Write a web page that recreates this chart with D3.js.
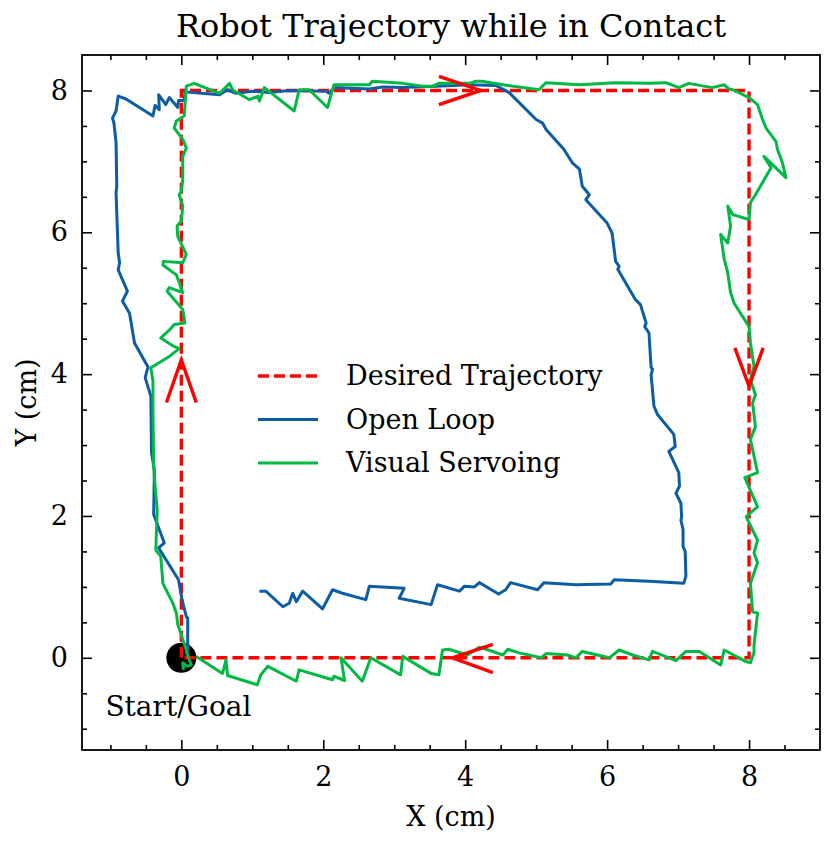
<!DOCTYPE html>
<html>
<head>
<meta charset="utf-8">
<script src="https://cdn.jsdelivr.net/npm/d3@7"></script>
<style>
  body { margin: 0; background: #fff; }
  text { font-family: "DejaVu Serif", serif; fill: #000; }
</style>
</head>
<body>
<div id="chart"></div>
<script>
// desired square path, start/goal at the origin
var desired = [[0, 0], [0, 8], [8, 8], [8, 0], [0, 0]];

// open loop run
var openLoop = [
  [0.10, 0.04], [0.07, 0.07], [0.09, 0.12], [0.09, 0.56], [0.07, 0.58], [0.01, 0.82],
  [-0.04, 1.10], [-0.32, 1.55], [-0.24, 1.62], [-0.39, 2.02], [-0.38, 2.65],
  [-0.42, 2.89], [-0.43, 3.69], [-0.51, 3.95], [-0.47, 4.10], [-0.66, 4.44],
  [-0.73, 4.86], [-0.83, 5.03], [-0.76, 5.17], [-0.89, 5.47], [-0.87, 5.57],
  [-0.89, 5.71], [-0.92, 6.56], [-0.91, 6.65], [-0.92, 7.26], [-0.95, 7.54],
  [-0.97, 7.61], [-0.92, 7.71], [-0.89, 7.92], [-0.78, 7.88], [-0.40, 7.64],
  [-0.37, 7.79], [-0.31, 7.73], [-0.32, 7.94], [-0.22, 7.80], [-0.17, 7.90],
  [-0.05, 7.76], [-0.04, 7.86], [0.04, 7.86], [0.05, 7.98], [0.54, 7.94],
  [0.65, 8.01], [0.77, 7.96], [1.00, 7.99], [1.24, 7.97], [1.52, 8.00],
  [2.04, 7.99], [2.08, 7.96], [2.15, 8.04], [2.65, 8.02], [2.84, 8.05],
  [3.12, 8.04], [3.59, 8.06], [4.06, 8.08], [4.43, 8.07], [4.53, 8.02],
  [4.62, 7.97], [5.00, 7.59], [5.09, 7.54], [5.14, 7.45], [5.39, 7.17],
  [5.51, 6.98], [5.61, 6.89], [5.65, 6.65], [5.75, 6.53], [5.70, 6.46],
  [6.00, 6.13], [6.07, 5.99], [6.12, 5.59], [6.17, 5.52], [6.15, 5.48],
  [6.40, 5.05], [6.47, 4.98], [6.55, 4.72], [6.53, 4.67], [6.59, 4.58],
  [6.62, 4.09], [6.64, 4.07], [6.62, 3.99], [6.66, 3.55], [6.71, 3.43],
  [6.94, 3.15], [6.96, 2.98], [6.87, 2.91], [7.01, 2.61], [7.02, 2.42],
  [6.97, 2.32], [7.04, 2.18], [7.05, 1.99], [7.04, 1.94], [7.07, 1.81],
  [7.07, 1.57], [7.10, 1.50], [7.11, 1.15], [7.08, 1.05], [6.59, 1.08],
  [6.10, 1.10], [6.05, 1.04], [5.56, 1.03], [5.11, 1.06], [5.02, 0.96],
  [4.64, 1.06], [4.57, 0.96], [4.47, 0.90], [4.20, 1.06], [4.13, 1.00],
  [3.99, 1.01], [3.92, 0.94], [3.61, 1.03], [3.52, 0.75], [3.07, 0.84],
  [3.14, 0.98], [2.65, 1.01], [2.60, 0.82], [2.27, 0.91], [2.13, 0.96],
  [1.99, 0.69], [1.71, 0.94], [1.62, 0.79], [1.57, 0.91], [1.52, 0.77],
  [1.43, 0.72], [1.19, 0.94], [1.10, 0.94]
];

// visual servoing run
var visualServo = [
  [0.03, -0.17], [0.02, -0.07], [0.08, -0.12], [0.14, -0.10], [0.10, 0.00],
  [0.07, 0.11], [0.00, 0.32], [-0.05, 0.47], [-0.07, 0.63], [-0.12, 0.77],
  [-0.26, 1.05], [-0.29, 1.43], [-0.36, 1.52], [-0.34, 2.09], [-0.37, 2.42],
  [-0.39, 2.70], [-0.40, 3.45], [-0.40, 3.90], [-0.43, 4.09], [-0.17, 4.25],
  [-0.03, 4.36], [-0.12, 4.40], [-0.29, 4.51], [-0.17, 4.62], [-0.10, 4.70],
  [0.05, 4.72], [0.02, 4.91], [-0.20, 5.17], [-0.17, 5.22], [0.02, 5.15],
  [-0.07, 5.40], [-0.26, 5.54], [-0.25, 5.59], [0.02, 5.57], [0.07, 5.69],
  [-0.05, 5.94], [-0.06, 6.09], [0.00, 6.16], [0.02, 6.37], [-0.03, 6.53],
  [0.00, 6.58], [0.02, 6.74], [0.02, 7.07], [0.07, 7.19], [0.02, 7.31],
  [-0.10, 7.47], [-0.07, 7.57], [0.04, 7.64], [0.07, 8.06], [0.18, 8.10],
  [0.54, 7.96], [0.68, 8.10], [0.72, 8.01], [0.96, 7.87], [1.08, 7.92],
  [1.10, 7.85], [1.17, 8.04], [1.59, 7.71], [1.66, 8.01], [1.80, 8.01],
  [2.06, 7.76], [2.15, 8.08], [2.41, 8.08], [2.65, 8.08], [2.69, 8.13],
  [3.12, 8.10], [3.40, 8.06], [3.54, 8.06], [3.63, 8.10], [4.06, 8.10],
  [4.15, 8.13], [4.24, 8.13], [4.53, 8.08], [5.04, 8.01], [5.14, 8.11],
  [5.61, 8.08], [6.12, 8.11], [6.59, 8.10], [6.83, 8.11], [7.01, 8.04],
  [7.15, 8.10], [7.48, 8.04], [7.65, 8.08], [7.72, 8.02], [7.77, 8.01],
  [8.00, 7.90], [8.12, 7.80], [8.19, 7.59], [8.24, 7.47], [8.38, 7.28],
  [8.40, 7.17], [8.47, 6.98], [8.52, 6.77], [8.21, 7.07], [8.31, 6.91],
  [8.16, 6.65], [8.09, 6.53], [8.02, 6.42], [8.00, 6.18], [7.77, 6.25],
  [7.70, 6.37], [7.74, 6.09], [7.70, 5.85], [7.60, 5.97], [7.65, 5.62],
  [7.70, 5.43], [7.74, 5.15], [7.79, 5.00], [8.00, 4.67], [8.02, 4.44],
  [8.07, 4.11], [8.02, 3.92], [8.09, 3.71], [8.05, 3.59], [8.09, 3.26],
  [8.02, 3.08], [8.12, 2.61], [7.94, 2.54], [8.12, 2.13], [7.96, 1.99],
  [8.07, 1.76], [8.12, 1.66], [8.07, 1.48], [8.12, 1.34], [8.02, 1.05],
  [8.05, 0.65], [8.12, 0.63], [8.07, 0.18], [8.07, 0.07], [8.02, -0.07],
  [7.95, -0.05], [7.65, 0.11], [7.60, -0.10], [7.30, 0.09], [7.11, 0.09],
  [6.97, -0.04], [6.64, 0.09], [6.59, -0.03], [6.36, 0.04], [6.17, 0.11],
  [6.03, 0.00], [5.65, 0.09], [5.56, 0.00], [5.44, 0.04], [5.14, 0.06],
  [5.07, 0.00], [4.76, 0.07], [4.60, 0.12], [4.53, 0.04], [4.36, 0.10],
  [4.20, 0.15], [4.03, 0.04], [3.77, 0.12], [3.68, 0.11], [3.66, -0.03],
  [3.63, -0.24], [3.52, -0.22], [3.12, 0.02], [3.09, -0.24], [2.67, 0.00],
  [2.55, -0.33], [2.25, 0.00], [2.30, -0.32], [2.15, -0.26], [2.13, -0.31],
  [1.66, -0.17], [1.62, -0.33], [1.22, -0.12], [1.12, -0.24], [1.07, -0.38],
  [0.65, -0.25], [0.63, -0.03], [0.58, -0.22], [0.21, 0.02]
];

// direction arrows on the desired path: tip and the two leg ends
var arrowTips = [[0, 4.2], [4.22, 8], [8, 3.83], [3.82, 0]];
var arrowLegs = [
  [[-0.21, 3.6], [0.21, 3.6]],
  [[3.63, 8.2], [3.63, 7.8]],
  [[7.8, 4.37], [8.2, 4.37]],
  [[4.39, 0.19], [4.39, -0.21]]
];

var startGoal = [0, 0];
var startLabel = "Start/Goal";
var startLabelPos = [-1.07, -0.82];

var seriesNames = ["Desired Trajectory", "Open Loop", "Visual Servoing"];
var seriesColors = ["#ff0000", "#0c5da5", "#00b945"];

var xMajor = [0, 2, 4, 6, 8];
var yMajor = [0, 2, 4, 6, 8];

var W = 832, H = 845;
var margin = {top: 55, right: 12, bottom: 95, left: 82};
var width = W - margin.left - margin.right,
    height = H - margin.top - margin.bottom;

var svg = d3.select("#chart").append("svg")
    .attr("width", W)
    .attr("height", H);

var g = svg.append("g")
    .attr("transform", "translate(" + margin.left + "," + margin.top + ")");

var x = d3.scaleLinear().domain([-1.4, 9.0]).range([0, width]);
var y = d3.scaleLinear().domain([-1.3, 8.5]).range([height, 0]);

// minor ticks every 0.5, skipping majors and the frame edges
var xMinor = d3.range(-1, 9, 0.5).filter(function(v) { return xMajor.indexOf(v) < 0; });
var yMinor = d3.range(-1, 8.5, 0.5).filter(function(v) { return yMajor.indexOf(v) < 0; });

function styleAxis(sel) {
    sel.select(".domain").remove();
    sel.selectAll("line").attr("stroke", "#000").attr("stroke-width", 1.6);
    sel.selectAll("text").style("font-size", "27px");
}

g.append("g").attr("transform", "translate(0," + height + ")")
    .call(d3.axisBottom(x).tickValues(xMajor).tickSize(-10).tickPadding(17).tickFormat(d3.format("d")))
    .call(styleAxis);
g.append("g").attr("transform", "translate(0," + height + ")")
    .call(d3.axisBottom(x).tickValues(xMinor).tickSize(-5).tickFormat(""))
    .call(styleAxis);
g.append("g")
    .call(d3.axisTop(x).tickValues(xMajor).tickSize(-10).tickFormat(""))
    .call(styleAxis);
g.append("g")
    .call(d3.axisTop(x).tickValues(xMinor).tickSize(-5).tickFormat(""))
    .call(styleAxis);

g.append("g")
    .call(d3.axisLeft(y).tickValues(yMajor).tickSize(-10).tickPadding(14).tickFormat(d3.format("d")))
    .call(styleAxis);
g.append("g")
    .call(d3.axisLeft(y).tickValues(yMinor).tickSize(-5).tickFormat(""))
    .call(styleAxis);
g.append("g").attr("transform", "translate(" + width + ",0)")
    .call(d3.axisRight(y).tickValues(yMajor).tickSize(-10).tickFormat(""))
    .call(styleAxis);
g.append("g").attr("transform", "translate(" + width + ",0)")
    .call(d3.axisRight(y).tickValues(yMinor).tickSize(-5).tickFormat(""))
    .call(styleAxis);

// start/goal marker sits under the lines
g.append("circle")
    .attr("cx", x(startGoal[0]))
    .attr("cy", y(startGoal[1]))
    .attr("r", 15)
    .attr("fill", "#000");

var line = d3.line()
    .x(function(d) { return x(d[0]); })
    .y(function(d) { return y(d[1]); });

var plot = g.append("g");

plot.append("path")
    .attr("d", line(desired))
    .attr("fill", "none")
    .attr("stroke", seriesColors[0])
    .attr("stroke-width", 3.4)
    .attr("stroke-dasharray", "11,5");

plot.append("path")
    .attr("d", line(openLoop))
    .attr("fill", "none")
    .attr("stroke", seriesColors[1])
    .attr("stroke-width", 3)
    .attr("stroke-linejoin", "round");

plot.append("path")
    .attr("d", line(visualServo))
    .attr("fill", "none")
    .attr("stroke", seriesColors[2])
    .attr("stroke-width", 3)
    .attr("stroke-linejoin", "round");

// arrows
arrowTips.forEach(function(tip, i) {
    var pts = [arrowLegs[i][0], tip, arrowLegs[i][1]];
    plot.append("path")
        .attr("d", line(pts))
        .attr("fill", "none")
        .attr("stroke", seriesColors[0])
        .attr("stroke-width", 3.4);
});

g.append("text")
    .attr("x", x(startLabelPos[0]))
    .attr("y", y(startLabelPos[1]))
    .style("font-size", "28px")
    .text(startLabel);

// frame
g.append("rect")
    .attr("width", width)
    .attr("height", height)
    .attr("fill", "none")
    .attr("stroke", "#000")
    .attr("stroke-width", 1.8);

// legend
var legend = g.append("g").attr("transform", "translate(176,321)");
seriesNames.forEach(function(name, i) {
    var row = legend.append("g").attr("transform", "translate(0," + (i * 43.5) + ")");
    row.append("line")
        .attr("x1", 0).attr("x2", 60)
        .attr("stroke", seriesColors[i])
        .attr("stroke-width", i == 0 ? 3.4 : 3)
        .attr("stroke-dasharray", i == 0 ? "11,5" : null);
    row.append("text")
        .attr("x", 88)
        .attr("dy", "0.35em")
        .style("font-size", "27px")
        .text(name);
});

// titles
svg.append("text")
    .attr("x", margin.left + width / 2)
    .attr("y", 37)
    .attr("text-anchor", "middle")
    .style("font-size", "32px")
    .text("Robot Trajectory while in Contact");

svg.append("text")
    .attr("x", margin.left + width / 2)
    .attr("y", 826)
    .attr("text-anchor", "middle")
    .style("font-size", "27px")
    .text("X (cm)");

svg.append("text")
    .attr("transform", "translate(36," + (margin.top + height / 2) + ") rotate(-90)")
    .attr("text-anchor", "middle")
    .style("font-size", "27px")
    .text("Y (cm)");
</script>
</body>
</html>
